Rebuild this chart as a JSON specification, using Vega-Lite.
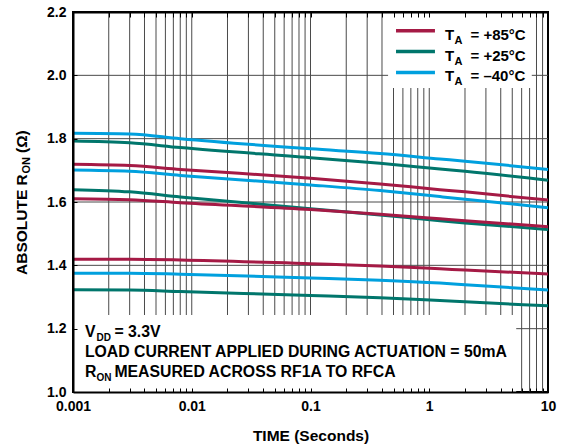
{
  "$schema": "https://vega.github.io/schema/vega-lite/v6.json",
  "width": 475,
  "height": 380,
  "autosize": {"type": "none"},
  "padding": {"left": 73, "top": 12, "right": 17, "bottom": 56},
  "background": "white",
  "config": {"view": {"stroke": "#000", "strokeWidth": 2}, "font": "Liberation Sans", "text": {"font": "Liberation Sans", "fontWeight": "bold", "color": "#000"}},
  "resolve": {"axis": {"x": "independent"}},
  "datasets": {
    "ron": [
      {"time": 0.001, "ron": 1.817, "temp": "–40°C", "unit": "a"},
      {"time": 0.003, "ron": 1.815, "temp": "–40°C", "unit": "a"},
      {"time": 0.008, "ron": 1.800, "temp": "–40°C", "unit": "a"},
      {"time": 0.1, "ron": 1.768, "temp": "–40°C", "unit": "a"},
      {"time": 0.385, "ron": 1.753, "temp": "–40°C", "unit": "a"},
      {"time": 1.23, "ron": 1.736, "temp": "–40°C", "unit": "a"},
      {"time": 2, "ron": 1.729, "temp": "–40°C", "unit": "a"},
      {"time": 10, "ron": 1.703, "temp": "–40°C", "unit": "a"},
      {"time": 0.001, "ron": 1.793, "temp": "+25°C", "unit": "a"},
      {"time": 0.003, "ron": 1.787, "temp": "+25°C", "unit": "a"},
      {"time": 0.008, "ron": 1.772, "temp": "+25°C", "unit": "a"},
      {"time": 0.1, "ron": 1.740, "temp": "+25°C", "unit": "a"},
      {"time": 0.385, "ron": 1.722, "temp": "+25°C", "unit": "a"},
      {"time": 1.23, "ron": 1.704, "temp": "+25°C", "unit": "a"},
      {"time": 2, "ron": 1.697, "temp": "+25°C", "unit": "a"},
      {"time": 10, "ron": 1.669, "temp": "+25°C", "unit": "a"},
      {"time": 0.001, "ron": 1.719, "temp": "+85°C", "unit": "a"},
      {"time": 0.003, "ron": 1.715, "temp": "+85°C", "unit": "a"},
      {"time": 0.008, "ron": 1.703, "temp": "+85°C", "unit": "a"},
      {"time": 0.1, "ron": 1.675, "temp": "+85°C", "unit": "a"},
      {"time": 0.385, "ron": 1.657, "temp": "+85°C", "unit": "a"},
      {"time": 1.23, "ron": 1.639, "temp": "+85°C", "unit": "a"},
      {"time": 2, "ron": 1.632, "temp": "+85°C", "unit": "a"},
      {"time": 10, "ron": 1.606, "temp": "+85°C", "unit": "a"},
      {"time": 0.001, "ron": 1.701, "temp": "–40°C", "unit": "b"},
      {"time": 0.003, "ron": 1.697, "temp": "–40°C", "unit": "b"},
      {"time": 0.008, "ron": 1.684, "temp": "–40°C", "unit": "b"},
      {"time": 0.1, "ron": 1.654, "temp": "–40°C", "unit": "b"},
      {"time": 0.385, "ron": 1.636, "temp": "–40°C", "unit": "b"},
      {"time": 1.23, "ron": 1.617, "temp": "–40°C", "unit": "b"},
      {"time": 2, "ron": 1.609, "temp": "–40°C", "unit": "b"},
      {"time": 10, "ron": 1.582, "temp": "–40°C", "unit": "b"},
      {"time": 0.001, "ron": 1.639, "temp": "+25°C", "unit": "b"},
      {"time": 0.003, "ron": 1.632, "temp": "+25°C", "unit": "b"},
      {"time": 0.008, "ron": 1.616, "temp": "+25°C", "unit": "b"},
      {"time": 0.1, "ron": 1.579, "temp": "+25°C", "unit": "b"},
      {"time": 0.385, "ron": 1.559, "temp": "+25°C", "unit": "b"},
      {"time": 1.23, "ron": 1.541, "temp": "+25°C", "unit": "b"},
      {"time": 2, "ron": 1.534, "temp": "+25°C", "unit": "b"},
      {"time": 10, "ron": 1.513, "temp": "+25°C", "unit": "b"},
      {"time": 0.001, "ron": 1.610, "temp": "+85°C", "unit": "b"},
      {"time": 0.003, "ron": 1.607, "temp": "+85°C", "unit": "b"},
      {"time": 0.008, "ron": 1.598, "temp": "+85°C", "unit": "b"},
      {"time": 0.1, "ron": 1.576, "temp": "+85°C", "unit": "b"},
      {"time": 0.385, "ron": 1.561, "temp": "+85°C", "unit": "b"},
      {"time": 1.23, "ron": 1.547, "temp": "+85°C", "unit": "b"},
      {"time": 2, "ron": 1.541, "temp": "+85°C", "unit": "b"},
      {"time": 10, "ron": 1.522, "temp": "+85°C", "unit": "b"},
      {"time": 0.001, "ron": 1.419, "temp": "+85°C", "unit": "c"},
      {"time": 0.003, "ron": 1.419, "temp": "+85°C", "unit": "c"},
      {"time": 0.008, "ron": 1.417, "temp": "+85°C", "unit": "c"},
      {"time": 0.1, "ron": 1.405, "temp": "+85°C", "unit": "c"},
      {"time": 0.385, "ron": 1.398, "temp": "+85°C", "unit": "c"},
      {"time": 1.23, "ron": 1.389, "temp": "+85°C", "unit": "c"},
      {"time": 2, "ron": 1.385, "temp": "+85°C", "unit": "c"},
      {"time": 10, "ron": 1.373, "temp": "+85°C", "unit": "c"},
      {"time": 0.001, "ron": 1.375, "temp": "–40°C", "unit": "c"},
      {"time": 0.003, "ron": 1.375, "temp": "–40°C", "unit": "c"},
      {"time": 0.008, "ron": 1.372, "temp": "–40°C", "unit": "c"},
      {"time": 0.1, "ron": 1.360, "temp": "–40°C", "unit": "c"},
      {"time": 0.385, "ron": 1.353, "temp": "–40°C", "unit": "c"},
      {"time": 1.23, "ron": 1.344, "temp": "–40°C", "unit": "c"},
      {"time": 2, "ron": 1.339, "temp": "–40°C", "unit": "c"},
      {"time": 10, "ron": 1.322, "temp": "–40°C", "unit": "c"},
      {"time": 0.001, "ron": 1.323, "temp": "+25°C", "unit": "c"},
      {"time": 0.003, "ron": 1.322, "temp": "+25°C", "unit": "c"},
      {"time": 0.008, "ron": 1.317, "temp": "+25°C", "unit": "c"},
      {"time": 0.1, "ron": 1.305, "temp": "+25°C", "unit": "c"},
      {"time": 0.385, "ron": 1.298, "temp": "+25°C", "unit": "c"},
      {"time": 1.23, "ron": 1.289, "temp": "+25°C", "unit": "c"},
      {"time": 2, "ron": 1.285, "temp": "+25°C", "unit": "c"},
      {"time": 10, "ron": 1.272, "temp": "+25°C", "unit": "c"}
    ],
    "vgrid": [
      {"time": 0.002}, {"time": 0.003}, {"time": 0.004}, {"time": 0.005}, {"time": 0.006}, {"time": 0.007}, {"time": 0.008}, {"time": 0.009},
      {"time": 0.01}, {"time": 0.02}, {"time": 0.03}, {"time": 0.04}, {"time": 0.05}, {"time": 0.06}, {"time": 0.07}, {"time": 0.08}, {"time": 0.09},
      {"time": 0.1}, {"time": 0.2}, {"time": 0.3}, {"time": 0.4}, {"time": 0.5}, {"time": 0.6}, {"time": 0.7}, {"time": 0.8}, {"time": 0.9},
      {"time": 1}, {"time": 2}, {"time": 3}, {"time": 4}, {"time": 5}, {"time": 6}, {"time": 7}, {"time": 8}, {"time": 9}
    ],
    "hgrid": [
      {"level": 1.2}, {"level": 1.4}, {"level": 1.6}, {"level": 1.8}, {"level": 2.0}
    ]
  },
  "layer": [
    {
      "data": {"name": "vgrid"},
      "mark": {"type": "rule", "color": "#4a4a4a", "strokeWidth": 1},
      "encoding": {
        "x": {"field": "time", "type": "quantitative", "scale": {"type": "log", "domain": [0.001, 10], "nice": false},
          "axis": {"orient": "top", "values": [0.001,0.002,0.003,0.004,0.005,0.006,0.007,0.008,0.009,0.01,0.02,0.03,0.04,0.05,0.06,0.07,0.08,0.09,0.1,0.2,0.3,0.4,0.5,0.6,0.7,0.8,0.9,1,2,3,4,5,6,7,8,9,10],
            "labels": false, "title": null, "grid": false, "ticks": true, "tickSize": -5, "tickColor": "#000", "tickWidth": 1, "domain": true, "domainColor": "#000", "domainWidth": 2, "zindex": 1}}
      }
    },
    {
      "data": {"name": "hgrid"},
      "mark": {"type": "rule", "color": "#4a4a4a", "strokeWidth": 1},
      "encoding": {
        "y": {"field": "level", "type": "quantitative", "scale": {"domain": [1.0, 2.2], "nice": false, "zero": false}}
      }
    },
    {
      "data": {"values": [{}]},
      "mark": {"type": "rect", "fill": "white"},
      "encoding": {
        "x": {"datum": 0.001, "type": "quantitative", "scale": {"type": "log", "domain": [0.001, 10], "nice": false}, "axis": null},
        "x2": {"datum": 5.4},
        "y": {"datum": 1.0, "type": "quantitative", "scale": {"domain": [1.0, 2.2], "nice": false, "zero": false}},
        "y2": {"datum": 1.243}
      }
    },
    {
      "data": {"values": [{}]},
      "mark": {"type": "rect", "fill": "white"},
      "encoding": {
        "x": {"datum": 0.45, "type": "quantitative", "scale": {"type": "log", "domain": [0.001, 10], "nice": false}, "axis": null},
        "x2": {"datum": 7.3},
        "y": {"datum": 1.96, "type": "quantitative", "scale": {"domain": [1.0, 2.2], "nice": false, "zero": false}},
        "y2": {"datum": 2.199}
      }
    },
    {
      "data": {"name": "ron"},
      "mark": {"type": "line", "strokeWidth": 3, "interpolate": "monotone"},
      "encoding": {
        "x": {"field": "time", "type": "quantitative", "scale": {"type": "log", "domain": [0.001, 10], "nice": false},
          "axis": {"orient": "bottom", "values": [0.001,0.002,0.003,0.004,0.005,0.006,0.007,0.008,0.009,0.01,0.02,0.03,0.04,0.05,0.06,0.07,0.08,0.09,0.1,0.2,0.3,0.4,0.5,0.6,0.7,0.8,0.9,1,2,3,4,5,6,7,8,9,10],
            "format": "~g", "labelExpr": "indexof([0.001, 0.01, 0.1, 1, 10], datum.value) >= 0 ? datum.label : ''",
            "labelOverlap": false, "labelFlush": false, "labelFont": "Liberation Sans", "labelFontSize": 14, "labelFontWeight": "bold", "labelColor": "#000", "labelPadding": 11,
            "grid": false, "tickSize": -4, "tickColor": "#000", "tickWidth": 1, "domainColor": "#000", "domainWidth": 2,
            "title": "TIME (Seconds)", "titleFont": "Liberation Sans", "titleFontSize": 15.5, "titleFontWeight": "bold", "titleColor": "#000", "titlePadding": 15, "zindex": 1}},
        "y": {"field": "ron", "type": "quantitative", "scale": {"domain": [1.0, 2.2], "nice": false, "zero": false},
          "axis": {"orient": "left", "values": [1.0, 1.2, 1.4, 1.6, 1.8, 2.0, 2.2], "format": ".1f", "labelFlush": false, "labelOverlap": false,
            "labelFont": "Liberation Sans", "labelFontSize": 14, "labelFontWeight": "bold", "labelColor": "#000", "labelPadding": 11,
            "grid": false, "tickSize": -4, "tickColor": "#000", "tickWidth": 1, "domain": true, "domainColor": "#000", "domainWidth": 2, "title": null, "zindex": 1}},
        "color": {"field": "temp", "type": "nominal", "scale": {"domain": ["+85°C", "+25°C", "–40°C"], "range": ["#A51A45", "#00766C", "#00A0DE"]}, "legend": null},
        "detail": {"field": "unit", "type": "nominal"}
      }
    },
    {
      "data": {"values": [{}]},
      "mark": {"type": "rule", "color": "#A51A45", "strokeWidth": 3.5},
      "encoding": {
        "x": {"datum": 0.525, "type": "quantitative", "scale": {"type": "log", "domain": [0.001, 10], "nice": false}, "axis": null},
        "x2": {"datum": 1.117},
        "y": {"datum": 2.141, "type": "quantitative", "scale": {"domain": [1.0, 2.2], "nice": false, "zero": false}}
      }
    },
    {
      "data": {"values": [{}]},
      "mark": {"type": "rule", "color": "#00766C", "strokeWidth": 3.5},
      "encoding": {
        "x": {"datum": 0.525, "type": "quantitative", "scale": {"type": "log", "domain": [0.001, 10], "nice": false}, "axis": null},
        "x2": {"datum": 1.117},
        "y": {"datum": 2.075, "type": "quantitative", "scale": {"domain": [1.0, 2.2], "nice": false, "zero": false}}
      }
    },
    {
      "data": {"values": [{}]},
      "mark": {"type": "rule", "color": "#00A0DE", "strokeWidth": 3.5},
      "encoding": {
        "x": {"datum": 0.525, "type": "quantitative", "scale": {"type": "log", "domain": [0.001, 10], "nice": false}, "axis": null},
        "x2": {"datum": 1.117},
        "y": {"datum": 2.009, "type": "quantitative", "scale": {"domain": [1.0, 2.2], "nice": false, "zero": false}}
      }
    },
    {
      "data": {"values": [{}]},
      "mark": {"type": "text", "text": ["T", "T", "T"], "align": "left", "baseline": "alphabetic", "fontSize": 15, "lineHeight": 20.75},
      "encoding": {
        "x": {"datum": 1.357, "type": "quantitative", "scale": {"type": "log", "domain": [0.001, 10], "nice": false}, "axis": null},
        "y": {"datum": 2.1116, "type": "quantitative", "scale": {"domain": [1.0, 2.2], "nice": false, "zero": false}}
      }
    },
    {
      "data": {"values": [{}]},
      "mark": {"type": "text", "text": ["A", "A", "A"], "align": "left", "baseline": "alphabetic", "fontSize": 11, "lineHeight": 20.75, "dx": 9.5, "dy": 4},
      "encoding": {
        "x": {"datum": 1.357, "type": "quantitative", "scale": {"type": "log", "domain": [0.001, 10], "nice": false}, "axis": null},
        "y": {"datum": 2.1116, "type": "quantitative", "scale": {"domain": [1.0, 2.2], "nice": false, "zero": false}}
      }
    },
    {
      "data": {"values": [{}]},
      "mark": {"type": "text", "text": ["= +85°C", "= +25°C", "= –40°C"], "align": "left", "baseline": "alphabetic", "fontSize": 15, "lineHeight": 20.75, "dx": 25.5},
      "encoding": {
        "x": {"datum": 1.357, "type": "quantitative", "scale": {"type": "log", "domain": [0.001, 10], "nice": false}, "axis": null},
        "y": {"datum": 2.1116, "type": "quantitative", "scale": {"domain": [1.0, 2.2], "nice": false, "zero": false}}
      }
    },
    {
      "data": {"values": [{}]},
      "mark": {"type": "text", "text": ["V", "LOAD CURRENT APPLIED DURING ACTUATION = 50mA", "R"], "align": "left", "baseline": "alphabetic", "fontSize": 15.8, "lineHeight": 20},
      "encoding": {
        "x": {"datum": 0.00126, "type": "quantitative", "scale": {"type": "log", "domain": [0.001, 10], "nice": false}, "axis": null},
        "y": {"datum": 1.1727, "type": "quantitative", "scale": {"domain": [1.0, 2.2], "nice": false, "zero": false}}
      }
    },
    {
      "data": {"values": [{}]},
      "mark": {"type": "text", "text": ["DD", "ON"], "align": "left", "baseline": "alphabetic", "fontSize": 10, "lineHeight": 40, "dx": 11.6, "dy": 3.5},
      "encoding": {
        "x": {"datum": 0.00126, "type": "quantitative", "scale": {"type": "log", "domain": [0.001, 10], "nice": false}, "axis": null},
        "y": {"datum": 1.1727, "type": "quantitative", "scale": {"domain": [1.0, 2.2], "nice": false, "zero": false}}
      }
    },
    {
      "data": {"values": [{}]},
      "mark": {"type": "text", "text": ["= 3.3V", "MEASURED ACROSS RF1A TO RFCA"], "align": "left", "baseline": "alphabetic", "fontSize": 15.8, "lineHeight": 40, "dx": 29.5},
      "encoding": {
        "x": {"datum": 0.00126, "type": "quantitative", "scale": {"type": "log", "domain": [0.001, 10], "nice": false}, "axis": null},
        "y": {"datum": 1.1727, "type": "quantitative", "scale": {"domain": [1.0, 2.2], "nice": false, "zero": false}}
      }
    },
    {
      "data": {"values": [{}]},
      "mark": {"type": "text", "text": "ABSOLUTE R", "angle": 270, "align": "left", "baseline": "alphabetic", "fontSize": 15.5, "dx": 0, "dy": -46.3},
      "encoding": {
        "x": {"datum": 0.001, "type": "quantitative", "scale": {"type": "log", "domain": [0.001, 10], "nice": false}, "axis": null},
        "y": {"datum": 1.3695, "type": "quantitative", "scale": {"domain": [1.0, 2.2], "nice": false, "zero": false}}
      }
    },
    {
      "data": {"values": [{}]},
      "mark": {"type": "text", "text": "ON", "angle": 270, "align": "left", "baseline": "alphabetic", "fontSize": 11, "dx": 101.5, "dy": -42.8},
      "encoding": {
        "x": {"datum": 0.001, "type": "quantitative", "scale": {"type": "log", "domain": [0.001, 10], "nice": false}, "axis": null},
        "y": {"datum": 1.3695, "type": "quantitative", "scale": {"domain": [1.0, 2.2], "nice": false, "zero": false}}
      }
    },
    {
      "data": {"values": [{}]},
      "mark": {"type": "text", "text": "(Ω)", "angle": 270, "align": "left", "baseline": "alphabetic", "fontSize": 15.5, "dx": 122, "dy": -46.3},
      "encoding": {
        "x": {"datum": 0.001, "type": "quantitative", "scale": {"type": "log", "domain": [0.001, 10], "nice": false}, "axis": null},
        "y": {"datum": 1.3695, "type": "quantitative", "scale": {"domain": [1.0, 2.2], "nice": false, "zero": false}}
      }
    }
  ]
}
